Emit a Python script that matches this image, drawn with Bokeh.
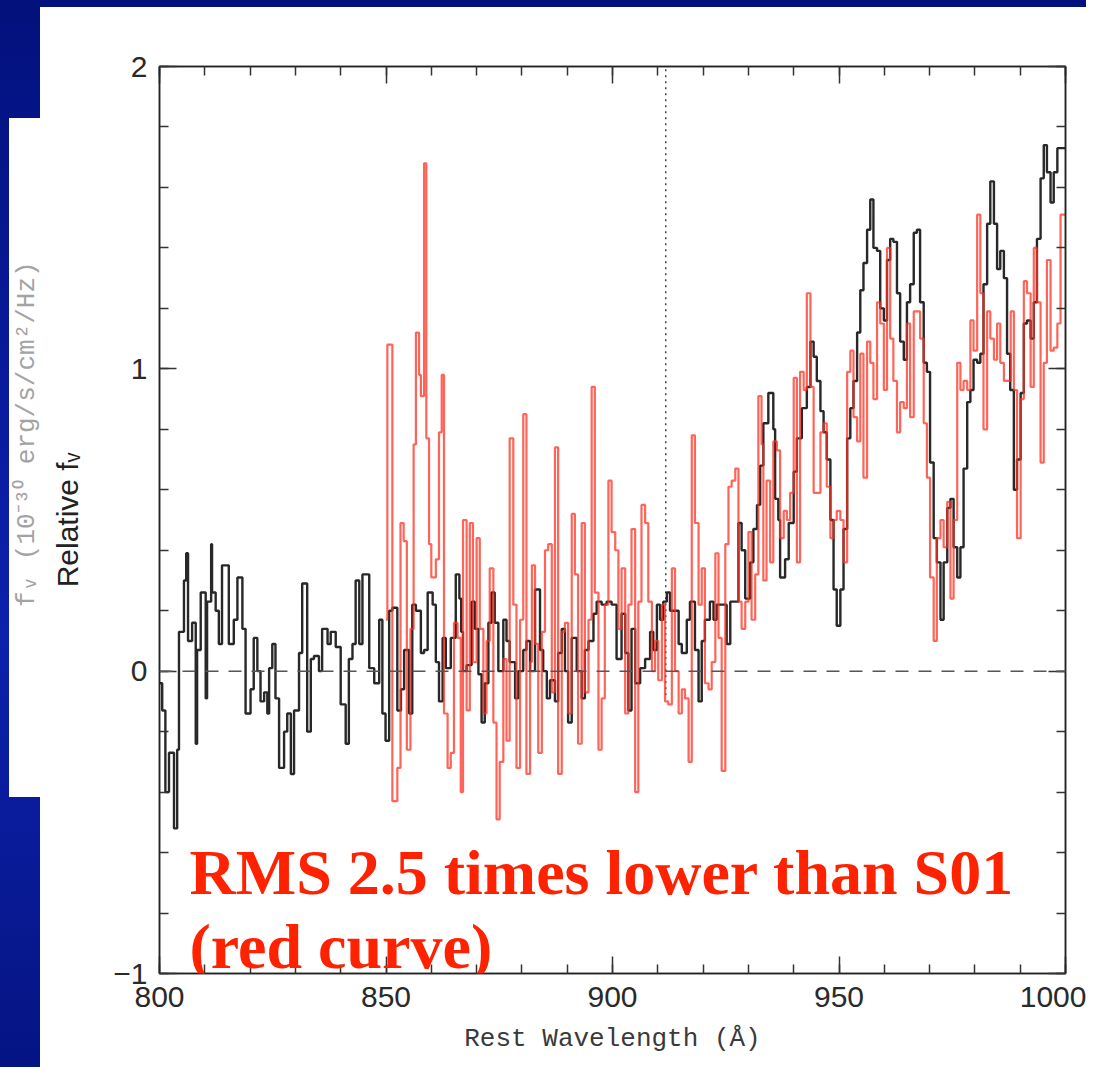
from bokeh.plotting import figure
from bokeh.models import Range1d, FixedTicker, Span, Label, LinearAxis
from bokeh.embed import file_html
from bokeh.resources import INLINE

# ---------------- data ----------------
# black spectrum: bin start wavelength (Angstrom) and relative flux
black_wl = [
    800.0, 800.6, 801.3, 802.1, 803.2, 803.9, 804.3, 805.4, 805.9, 806.3,
    807.2, 808.0, 808.3, 809.1, 810.2, 810.5, 811.4, 811.6, 812.4, 813.1,
    813.8, 815.3, 816.4, 817.2, 818.3, 819.0, 820.1, 820.8, 821.6, 822.3,
    823.1, 823.8, 824.2, 824.9, 825.6, 826.4, 827.5, 828.2, 829.0, 829.7,
    830.8, 831.5, 832.6, 833.4, 834.1, 835.2, 835.9, 837.1, 837.8, 838.9,
    840.0, 841.1, 841.8, 842.6, 843.3, 844.1, 844.8, 846.3, 847.4, 848.5,
    849.2, 849.9, 850.7, 851.4, 852.5, 853.3, 854.0, 855.1, 855.8, 856.6,
    857.7, 858.4, 859.2, 860.3, 861.0, 861.7, 862.5, 863.2, 864.3, 865.4,
    866.2, 866.6, 867.0, 867.8, 868.9, 869.6, 870.4, 871.1, 871.8, 872.6,
    873.3, 874.0, 874.8, 875.9, 876.6, 877.3, 878.5, 879.2, 880.3, 881.0,
    881.8, 882.9, 884.0, 884.7, 885.5, 886.2, 887.3, 888.0, 888.8, 889.5,
    890.2, 891.0, 892.1, 893.2, 893.9, 894.7, 895.8, 896.5, 897.6, 898.7,
    899.8, 900.9, 902.0, 902.8, 903.5, 904.2, 905.0, 906.1, 907.2, 908.3,
    909.0, 909.8, 910.5, 911.2, 912.0, 912.7, 914.6, 915.3, 916.4, 917.1,
    918.2, 919.0, 919.7, 920.4, 921.5, 922.3, 923.0, 925.2, 926.0, 927.8,
    928.5, 929.3, 930.4, 931.1, 931.9, 932.6, 933.3, 934.4, 935.5, 935.9,
    936.6, 937.0, 938.1, 938.9, 940.0, 940.7, 941.8, 942.9, 943.7, 944.4,
    945.1, 945.9, 946.6, 947.3, 948.1, 948.8, 949.5, 950.3, 951.0, 951.8,
    952.5, 953.2, 954.0, 954.7, 955.4, 956.2, 956.9, 957.6, 958.4, 959.1,
    959.9, 960.6, 961.3, 962.0, 962.8, 963.5, 964.3, 965.0, 965.7, 966.5,
    967.2, 967.9, 968.7, 969.4, 970.1, 970.9, 971.6, 972.4, 973.1, 973.9,
    974.6, 975.3, 976.1, 976.8, 977.5, 978.3, 979.0, 979.7, 980.5, 981.2,
    981.9, 982.7, 983.4, 984.2, 984.9, 985.6, 986.4, 987.1, 987.8, 988.6,
    989.3, 990.1, 990.8, 991.5, 992.3, 993.0, 993.7, 994.5, 995.2, 995.9,
    996.7, 997.4, 998.2,
]
black_flux = [
    -0.04, -0.13, -0.40, -0.27, -0.52, -0.26, 0.13, 0.30, 0.39, 0.10,
    0.16, -0.24, 0.07, 0.26, -0.09, 0.23, 0.42, 0.26, 0.20, 0.09,
    0.35, 0.09, 0.17, 0.31, 0.14, -0.14, -0.06, 0.11, 0.00, -0.10,
    -0.07, -0.14, 0.01, 0.09, -0.09, -0.32, -0.20, -0.14, -0.34, -0.13,
    0.06, 0.29, -0.20, 0.04, 0.05, 0.00, 0.14, 0.09, 0.13, 0.08,
    -0.11, -0.24, 0.04, 0.09, 0.30, 0.09, 0.32, 0.01, -0.04, 0.17,
    -0.14, -0.23, 0.20, 0.21, -0.13, -0.06, 0.07, -0.14, 0.22, 0.20,
    0.06, 0.07, 0.26, 0.22, 0.03, -0.10, 0.11, 0.01, 0.11, 0.32,
    0.24, 0.13, 0.00, 0.02, 0.23, 0.14, -0.01, -0.17, -0.04, 0.16,
    0.26, 0.16, 0.00, 0.17, 0.10, 0.03, -0.09, 0.00, 0.07, 0.10,
    0.00, 0.27, 0.07, 0.00, -0.09, -0.03, -0.10, 0.06, 0.14, 0.00,
    -0.17, 0.11, 0.00, -0.09, 0.07, 0.10, 0.19, 0.23, 0.22, 0.23,
    0.22, 0.04, 0.19, 0.06, -0.13, 0.14, -0.04, 0.01, 0.04, 0.13,
    0.07, 0.22, 0.17, 0.23, 0.26, 0.20, 0.09, 0.06, 0.17, 0.23,
    0.07, -0.10, 0.10, 0.17, 0.23, 0.17, 0.22, 0.09, 0.23, 0.49,
    0.40, 0.24, 0.36, 0.47, 0.55, 0.68, 0.82, 0.92, 0.80, 0.57,
    0.50, 0.31, 0.37, 0.49, 0.66, 0.77, 0.87, 0.94, 1.09, 1.04,
    0.96, 0.86, 0.79, 0.70, 0.50, 0.27, 0.15, 0.27, 0.47, 0.77,
    0.87, 0.96, 1.12, 1.26, 1.35, 1.46, 1.56, 1.40, 1.39, 1.20,
    1.16, 1.36, 1.43, 1.42, 1.25, 1.09, 1.03, 1.22, 1.28, 1.45,
    1.46, 1.22, 1.02, 0.99, 0.69, 0.44, 0.36, 0.17, 0.36, 0.54,
    0.57, 0.41, 0.31, 0.41, 0.67, 0.89, 0.93, 1.03, 1.02, 1.05,
    1.28, 1.48, 1.62, 1.48, 1.33, 1.39, 1.30, 1.05, 0.93, 0.60,
    0.70, 0.92, 1.15, 1.16, 1.10, 1.22, 1.43, 1.63, 1.74, 1.65,
    1.55, 1.65, 1.73,
]
black_end = 1000.0

# red spectrum (S01): bin start wavelength and relative flux
red_wl = [
    850.0, 850.3, 851.4, 852.5, 853.2, 853.9, 854.6, 855.4, 856.1, 856.6,
    857.3, 857.7, 858.4, 858.9, 859.5, 860.0, 861.0, 861.7, 862.3, 862.8,
    863.6, 864.3, 865.0, 865.8, 866.5, 867.0, 867.8, 868.5, 869.2, 870.0,
    870.7, 871.5, 872.2, 872.9, 873.7, 874.4, 875.1, 875.9, 876.6, 877.3,
    878.1, 878.8, 879.6, 880.3, 881.0, 881.8, 882.2, 882.9, 883.6, 884.4,
    885.1, 885.8, 886.6, 887.3, 888.0, 888.8, 889.5, 890.2, 891.0, 891.7,
    892.4, 893.2, 893.9, 894.7, 895.4, 896.1, 896.9, 897.6, 898.3, 899.1,
    899.8, 900.6, 901.3, 902.0, 902.8, 903.5, 904.2, 905.0, 905.7, 906.4,
    907.2, 907.9, 908.7, 909.4, 910.1, 910.9, 911.6, 912.3, 913.1, 913.8,
    914.6, 915.3, 916.0, 916.8, 917.5, 918.2, 919.0, 919.7, 920.4, 921.2,
    921.9, 922.7, 923.4, 924.1, 924.9, 925.6, 926.3, 927.1, 927.8, 928.5,
    929.3, 930.0, 930.7, 931.5, 932.2, 932.9, 933.3, 934.0, 934.8, 935.5,
    936.3, 937.0, 937.8, 938.5, 939.2, 940.0, 940.7, 941.4, 942.2, 942.9,
    943.7, 944.4, 945.1, 945.9, 946.6, 947.3, 948.1, 948.8, 949.5, 950.3,
    951.0, 951.8, 952.5, 953.2, 954.0, 954.7, 955.4, 956.2, 956.9, 957.6,
    958.4, 959.1, 959.9, 960.6, 961.3, 962.0, 962.8, 963.5, 964.3, 965.0,
    965.7, 966.5, 967.9, 968.7, 969.4, 970.1, 970.9, 971.6, 972.4, 973.1,
    973.9, 974.6, 975.3, 976.1, 976.8, 977.5, 978.3, 979.0, 979.7, 980.5,
    981.2, 981.9, 982.7, 983.4, 984.2, 984.9, 985.6, 986.4, 987.9, 988.6,
    989.3, 990.1, 990.8, 991.5, 992.3, 993.0, 993.7, 994.5, 995.2, 995.9,
    996.7, 997.4, 998.2, 998.9,
]
red_flux = [
    0.17, 1.08, -0.43, -0.32, 0.49, 0.43, -0.26, 0.14, 0.75, 1.12,
    0.98, 0.91, 1.68, 0.77, 0.42, 0.31, 0.37, 0.79, 0.98, -0.14,
    -0.32, -0.27, 0.16, 0.11, -0.40, 0.50, -0.13, 0.49, 0.03, 0.44,
    0.14, -0.14, 0.10, 0.34, -0.17, -0.49, -0.30, 0.04, -0.23, 0.77,
    0.22, -0.32, 0.17, 0.85, -0.34, 0.03, 0.35, 0.09, -0.27, 0.13,
    0.40, 0.42, -0.07, 0.74, -0.34, 0.13, 0.16, -0.14, 0.52, 0.32,
    -0.24, 0.49, -0.07, 0.17, 0.94, 0.26, -0.26, -0.09, 0.22, 0.63,
    0.46, 0.40, 0.14, 0.34, -0.14, 0.22, 0.47, -0.40, 0.23, 0.55,
    0.49, 0.23, 0.00, 0.10, -0.03, 0.22, -0.10, -0.11, 0.34, 0.00,
    -0.14, -0.06, -0.09, -0.30, 0.78, 0.49, 0.22, 0.34, -0.04, -0.06,
    0.03, 0.39, 0.11, -0.33, 0.42, 0.61, 0.63, 0.67, 0.23, 0.14,
    0.23, 0.46, 0.17, 0.32, 0.91, 0.75, 0.30, 0.63, 0.36, 0.76,
    0.73, 0.44, 0.53, 0.50, 0.59, 0.97, 0.36, 0.99, 0.93, 1.25,
    0.94, 0.59, 0.59, 0.79, 0.82, 0.61, 0.44, 0.50, 0.53, 0.50,
    0.36, 0.99, 1.06, 0.84, 0.76, 1.05, 0.64, 1.09, 1.02, 0.90,
    1.22, 1.15, 0.93, 1.40, 1.10, 0.96, 0.79, 0.89, 0.87, 1.15,
    0.84, 1.19, 1.10, 0.82, 0.64, 0.31, 0.10, 0.44, 0.50, 0.41,
    0.56, 0.24, 0.50, 1.02, 0.93, 0.96, 0.93, 1.16, 1.06, 1.51,
    1.25, 0.80, 1.19, 1.10, 1.03, 1.15, 1.02, 0.96, 1.19, 0.93,
    0.44, 0.90, 1.29, 1.25, 0.94, 1.40, 1.22, 0.69, 1.02, 1.36,
    1.06, 1.07, 1.15, 1.51,
]
red_end = 1000.0

x_major_ticks = [800, 850, 900, 950, 1000]
x_minor_ticks = [800, 810, 820, 830, 840, 850, 860, 870, 880, 890, 900,
                 910, 920, 930, 940, 950, 960, 970, 980, 990, 1000]
y_major_ticks = [-1, 0, 1, 2]
y_minor_ticks = [-1.0, -0.8, -0.6, -0.4, -0.2, 0.0, 0.2, 0.4, 0.6, 0.8,
                 1.0, 1.2, 1.4, 1.6, 1.8, 2.0]
lyman_limit = 911.75
lyman_line_bottom = -0.08

x_title = "Rest Wavelength (\u00c5)"
y_title = "Relative f\u1d65"
old_y_title = "f\u1d65 (10\u207b\u00b3\u2070 erg/s/cm\u00b2/Hz)"
note_line1 = "RMS 2.5 times lower than S01"
note_line2 = "(red curve)"

# ---------------- layout (pixels of the page) ----------------
PAGE_W, PAGE_H = 1086, 1067
FW, FH = 906, 907
FRAME_LEFT, FRAME_TOP = 159, 66
X0, X1, Y0, Y1 = 800.0, 1000.0, -1.0, 2.0

# slide background: navy top bar, blue gradient strip at the left with a white flap
slide_bg = {
    "background-color": "#ffffff",
    "background-image": ("linear-gradient(#ffffff, #ffffff), "
                         "linear-gradient(#ffffff, #ffffff), "
                         "linear-gradient(to bottom, #03117c 0%, #0a1da4 45%, #0c21ac 60%, #051483 100%)"),
    "background-position": "40px 7px, 9px 118px, 0px 0px",
    "background-size": "1100px 1100px, 31px 679px, 100% 100%",
    "background-repeat": "no-repeat",
}

p = figure(frame_width=FW, frame_height=FH,
           x_range=Range1d(X0, X1), y_range=Range1d(Y0, Y1),
           output_backend="svg", toolbar_location=None,
           min_border_left=FRAME_LEFT, min_border_right=PAGE_W - FRAME_LEFT - FW,
           min_border_top=FRAME_TOP, min_border_bottom=PAGE_H - FRAME_TOP - FH,
           background_fill_color="white", border_fill_color=None,
           outline_line_color="#222222", outline_line_width=1.5,
           styles=slide_bg)
p.grid.visible = False

p.add_layout(LinearAxis(), "right")
p.add_layout(LinearAxis(), "above")
for ax in p.xaxis:
    ax.ticker = FixedTicker(ticks=x_major_ticks, minor_ticks=x_minor_ticks)
for ax in p.yaxis:
    ax.ticker = FixedTicker(ticks=y_major_ticks, minor_ticks=y_minor_ticks)
for ax in p.axis:
    ax.major_tick_in = 17
    ax.major_tick_out = 0
    ax.minor_tick_in = 9
    ax.minor_tick_out = 0
    ax.axis_line_color = "#222222"
    ax.axis_line_width = 1.5
    ax.major_tick_line_color = "#333333"
    ax.minor_tick_line_color = "#333333"
    ax.major_tick_line_width = 1.5
    ax.minor_tick_line_width = 1.5
    ax.major_label_text_font = "Liberation Sans"
    ax.major_label_text_font_size = "30px"
    ax.major_label_text_color = "#2a2a2a"

p.right[0].major_label_overrides = {t: "" for t in y_major_ticks}
p.above[0].major_label_overrides = {t: "" for t in x_major_ticks}
p.left[0].major_label_overrides = {-1: "\u22121"}
p.left[0].major_label_standoff = 12
p.below[0].major_label_standoff = 13

p.below[0].axis_label = x_title
p.below[0].axis_label_standoff = 14
p.below[0].axis_label_text_font = "Liberation Mono"
p.below[0].axis_label_text_font_style = "normal"
p.below[0].axis_label_text_font_size = "26px"
p.below[0].axis_label_text_color = "#3a3a3a"

p.left[0].axis_label = y_title
p.left[0].axis_label_standoff = 26
p.left[0].axis_label_text_font = "Liberation Sans"
p.left[0].axis_label_text_font_style = "normal"
p.left[0].axis_label_text_font_size = "30px"
p.left[0].axis_label_text_color = "#222222"

# faded, partly overwritten original axis title (outermost, no ticks)
old_axis = LinearAxis(ticker=FixedTicker(ticks=[]), axis_line_color=None,
                      major_tick_line_color=None, minor_tick_line_color=None,
                      major_label_standoff=0, major_tick_in=0, major_tick_out=0,
                      minor_tick_in=0, minor_tick_out=0)
old_axis.axis_label = "\u00a0" * 11 + old_y_title
old_axis.axis_label_standoff = 7
old_axis.axis_label_text_font = "Liberation Mono"
old_axis.axis_label_text_font_style = "normal"
old_axis.axis_label_text_font_size = "26px"
old_axis.axis_label_text_color = "#a3a3a3"
p.add_layout(old_axis, "left")

# reference lines
p.add_layout(Span(location=0, dimension="width", line_color="#555555",
                  line_width=1.5, line_dash="13 10"))
p.segment(x0=[lyman_limit], y0=[lyman_line_bottom], x1=[lyman_limit], y1=[Y1],
          line_color="#444444", line_width=1.5, line_dash="2 4")

# spectra (histogram steps)
p.step(x=black_wl + [black_end], y=black_flux + [black_flux[-1]], mode="after",
       line_color="#111111", line_width=2.4, line_alpha=0.9)
p.step(x=red_wl + [red_end], y=red_flux + [red_flux[-1]], mode="after",
       line_color="#ff3020", line_width=2.2, line_alpha=0.75)


def dx(page_x):
    return X0 + (page_x - FRAME_LEFT) * (X1 - X0) / FW


def dy(page_y):
    return Y1 - (page_y - FRAME_TOP) * (Y1 - Y0) / FH


note_color = "#ff2200"
p.add_layout(Label(x=dx(189), y=dy(872), text=note_line1, text_align="left",
                   text_baseline="alphabetic", text_font="Liberation Serif",
                   text_font_style="bold", text_font_size="64px", text_color=note_color))
p.add_layout(Label(x=dx(189), y=dy(946), text=note_line2, text_align="left",
                   text_baseline="alphabetic", text_font="Liberation Serif",
                   text_font_style="bold", text_font_size="64px", text_color=note_color))

open("out.html", "w").write(file_html(p, INLINE))
